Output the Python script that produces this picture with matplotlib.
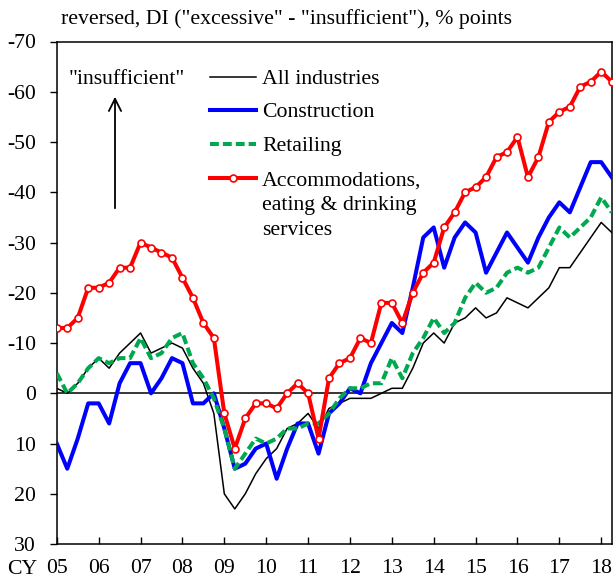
import numpy as np
import matplotlib
matplotlib.use('Agg')
import matplotlib.pyplot as plt

# Quarterly data, 2005 Q1 .. 2018 Q2 (Tankan employment conditions DI)
year_labels = ['05', '06', '07', '08', '09', '10', '11', '12', '13', '14', '15', '16', '17', '18']

all_industries = [-1, 0, -2, -5, -7, -5, -8, -10, -12, -8, -9, -10, -9, -5, -2, 4,
                  20, 23, 20, 16, 13, 11, 7, 6, 4, 7, 3, 2, 1, 1, 1, 0,
                  -1, -1, -5, -10, -12, -10, -14, -15, -17, -15, -16, -19, -18, -17,
                  -19, -21, -25, -25, -28, -31, -34, -32]

construction = [10, 15, 9, 2, 2, 6, -2, -6, -6, 0, -3, -7, -6, 2, 2, 0,
                7, 15, 14, 11, 10, 17, 11, 6, 6, 12, 4, 2, -1, 0, -6, -10,
                -14, -12, -21, -31, -33, -25, -31, -34, -32, -24, -28, -32, -29, -26,
                -31, -35, -38, -36, -41, -46, -46, -43]

retailing = [-4, 0, -2, -5, -7, -6, -7, -7, -11, -7, -8, -11, -12, -6, -3, 1,
             7, 15, 12, 9, 10, 9, 7, 7, 6, 6, 4, 1, -1, -1, -2, -2,
             -7, -3, -8, -11, -15, -12, -14, -19, -22, -20, -21, -24, -25, -24,
             -25, -29, -33, -31, -33, -35, -39, -36]

accommodations = [-13, -13, -15, -21, -21, -22, -25, -25, -30, -29, -28, -27, -23, -19, -14, -11,
                  4, 11, 5, 2, 2, 3, 0, -2, 0, 9, -3, -6, -7, -11, -10,
                  -18, -18, -14, -20, -24, -26, -33, -36, -40, -41, -43, -47, -48, -51,
                  -43, -47, -54, -56, -57, -61, -62, -64, -62]

series_names = ['All industries', 'Construction', 'Retailing',
                'Accommodations,\neating & drinking\nservices']

plt.rcParams['font.family'] = ['Liberation Serif', 'DejaVu Serif']
plt.rcParams['axes.unicode_minus'] = False
FS = 15.7

W, H = 614, 579
fig = plt.figure(figsize=(W / 100, H / 100), dpi=100)
ax_left, ax_right, ax_top, ax_bottom = 56.8, 611.7, 41.5, 544.1
ax = fig.add_axes([ax_left / W, (H - ax_bottom) / H,
                   (ax_right - ax_left) / W, (ax_bottom - ax_top) / H])

x = np.arange(len(all_industries))

ax.axhline(0, color='black', lw=1.1, zorder=1)
ax.plot(x, all_industries, color='black', lw=1.1, zorder=2)
ax.plot(x, construction, color='#0000FF', lw=2.9, zorder=3)
ax.plot(x, retailing, color='#00A84F', lw=2.9, dashes=(2.2, 1.0), zorder=4)
ax.plot(x, accommodations, color='#FF0000', lw=2.9, marker='o', ms=5,
        mfc='white', mec='#FF0000', mew=1.2, zorder=5)

ax.set_xlim(0, len(all_industries) - 1)
ax.set_ylim(30, -70)
ax.set_yticks(np.arange(-70, 31, 10))
ax.set_xticks(np.arange(0, 4 * len(year_labels), 4))
ax.set_xticklabels(year_labels)

ax.tick_params(axis='x', direction='in', length=5, width=1.0, pad=10.5, labelsize=FS)
ax.tick_params(axis='y', direction='out', length=5, width=1.0, pad=10, labelsize=FS)
for sp in ax.spines.values():
    sp.set_linewidth(1.1)


def fx(px):
    return (px - ax_left) / (ax_right - ax_left)


def fy(py):
    return (ax_bottom - py) / (ax_bottom - ax_top)


# manual legend
hx0, hx1, tx = fx(210), fx(256), fx(262)
rows = [76.7, 110.0, 144.3, 178.3]
styles = [dict(color='black', lw=1.1),
          dict(color='#0000FF', lw=2.9),
          dict(color='#00A84F', lw=2.9, dashes=(2.2, 1.0)),
          dict(color='#FF0000', lw=2.9)]
for r, st in zip(rows, styles):
    ax.plot([hx0, hx1], [fy(r), fy(r)], transform=ax.transAxes, clip_on=False, **st)
ax.plot([(hx0 + hx1) / 2], [fy(rows[3])], transform=ax.transAxes, marker='o', ms=5,
        mfc='white', mec='#FF0000', mew=1.2, clip_on=False)
for r, name in zip(rows[:3], series_names[:3]):
    ax.text(tx, fy(r), name, transform=ax.transAxes, fontsize=FS,
            va='center_baseline', ha='left')
for i, line in enumerate(series_names[3].split('\n')):
    ax.text(tx, fy(rows[3] + 25 * i), line, transform=ax.transAxes, fontsize=FS,
            va='center_baseline', ha='left')

# "insufficient" annotation with arrow
ax.text(fx(126.7), fy(76.7), '"insufficient"', transform=ax.transAxes, fontsize=FS,
        va='center_baseline', ha='center')
ax.annotate('', xy=(fx(115), fy(94)), xytext=(fx(115), fy(211)),
            xycoords='axes fraction', textcoords='axes fraction',
            arrowprops=dict(arrowstyle='->', lw=1.3, color='black', mutation_scale=22))

fig.text(61 / W, 1 - 19 / H, 'reversed, DI ("excessive" - "insufficient"), % points',
         fontsize=FS, va='center', ha='left')
fig.text(22 / W, 1 - 569 / H, 'CY', fontsize=FS, va='center', ha='center')

fig.savefig('out.png', dpi=100)
